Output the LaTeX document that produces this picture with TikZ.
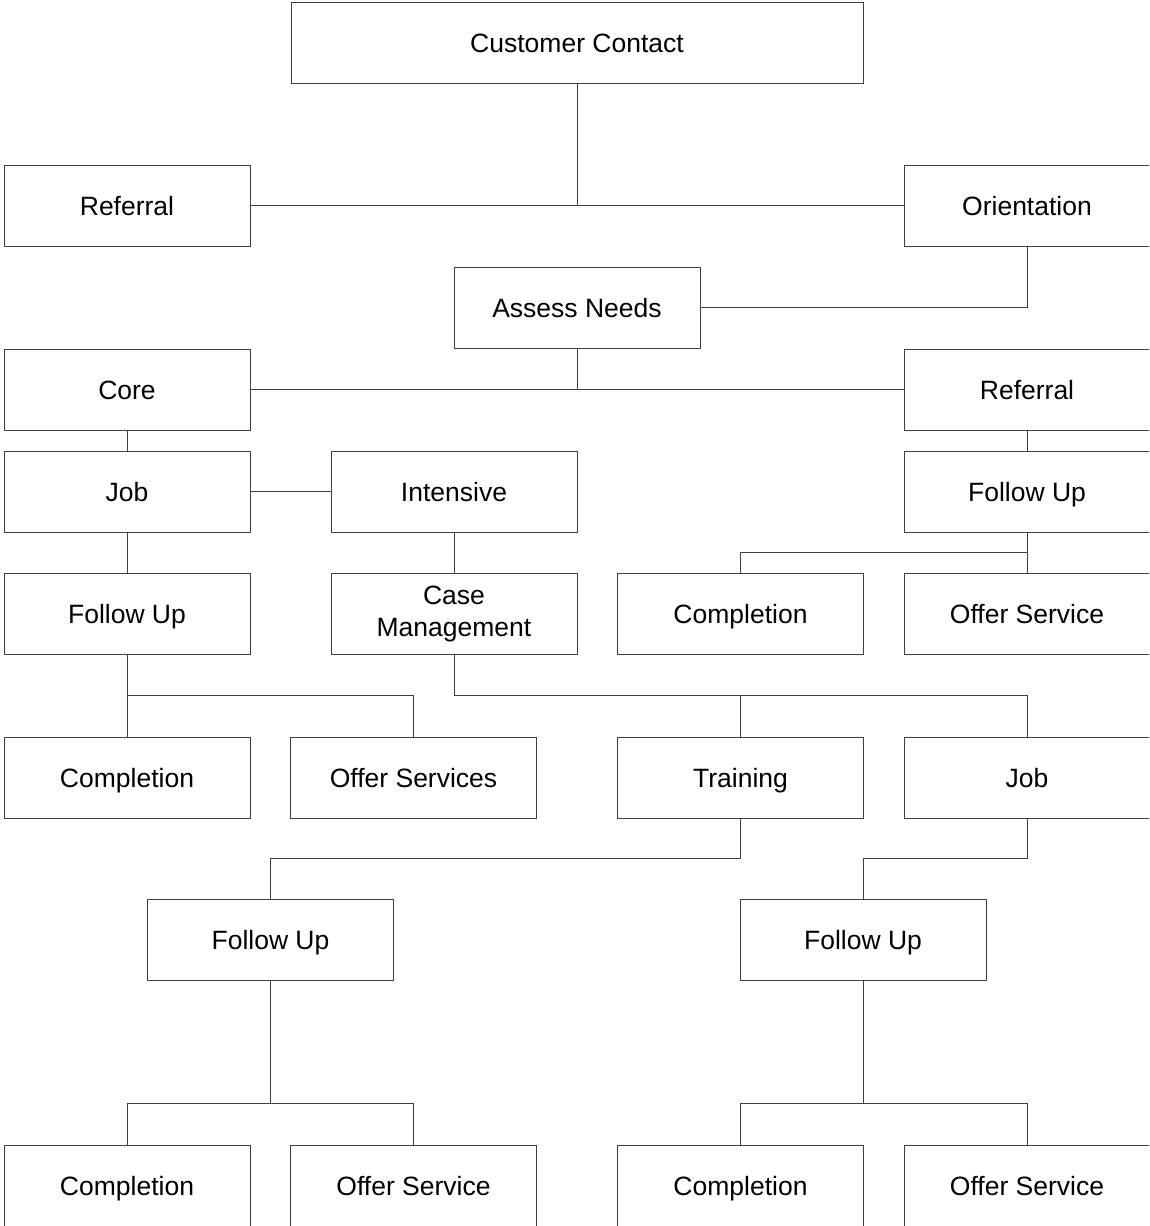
\documentclass[tikz,border=0pt]{standalone}
\usepackage{fontspec}
\setmainfont{Liberation Sans}
\usetikzlibrary{calc}
\begin{document}
\begin{tikzpicture}[x=1pt,y=-1pt,
  box/.style={draw=black!75,line width=1pt,minimum width=246pt,minimum height=81pt,inner sep=0pt,align=center,font=\fontsize{26.5}{32}\selectfont,text height=19pt,text depth=0pt},
  box2/.style={draw=black!75,line width=1pt,minimum width=246pt,minimum height=81pt,inner sep=0pt,align=center,font=\fontsize{26.5}{32}\selectfont},
  conn/.style={draw=black!75,line width=1pt}]
\useasboundingbox (0,0) rectangle (1149,1226);
\clip (0,0) rectangle (1149,1226);
\node[box,minimum width=572pt] (cc) at (577,42.5) {Customer Contact};
\node[box] (ref1) at (127,205.5) {Referral};
\node[box] (orient) at (1027,205.5) {Orientation};
\node[box] (assess) at (577,307.5) {Assess Needs};
\node[box] (core) at (127,389.5) {Core};
\node[box] (ref2) at (1027,389.5) {Referral};
\node[box] (job1) at (127,491.5) {Job};
\node[box] (intensive) at (454,491.5) {Intensive};
\node[box] (fu1) at (1027,491.5) {Follow Up};
\node[box] (fu2) at (127,613.5) {Follow Up};
\node[box2] (casem) at (454,613.5) {Case\\Management};
\node[box] (comp1) at (740.5,613.5) {Completion};
\node[box] (offer1) at (1027,613.5) {Offer Service};
\node[box] (comp2) at (127,777.5) {Completion};
\node[box] (offers) at (413.5,777.5) {Offer Services};
\node[box] (training) at (740.5,777.5) {Training};
\node[box] (job2) at (1027,777.5) {Job};
\node[box] (fu3) at (270.5,939.5) {Follow Up};
\node[box] (fu4) at (863,939.5) {Follow Up};
\node[box] (comp3) at (127,1185.5) {Completion};
\node[box] (offer3) at (413.5,1185.5) {Offer Service};
\node[box] (comp4) at (740.5,1185.5) {Completion};
\node[box] (offer4) at (1027,1185.5) {Offer Service};
% connectors
\draw[conn] (cc.south) -- (cc.south |- ref1.east);
\draw[conn] (ref1.east) -- (orient.west);
\draw[conn] (orient.south) |- (assess.east);
\draw[conn] (assess.south) -- (assess.south |- core.east);
\draw[conn] (core.east) -- (ref2.west);
\draw[conn] (core.south) -- (job1.north);
\draw[conn] (job1.east) -- (intensive.west);
\draw[conn] (intensive.south) -- (casem.north);
\draw[conn] (job1.south) -- (fu2.north);
\draw[conn] (ref2.south) -- (fu1.north);
\coordinate (j1) at ($(fu1.south)!0.5!(offer1.north)$);
\draw[conn] (fu1.south) -- (offer1.north);
\draw[conn] (j1) -| (comp1.north);
\coordinate (j2) at ($(fu2.south)!0.5!(comp2.north)$);
\draw[conn] (fu2.south) -- (comp2.north);
\draw[conn] (j2) -| (offers.north);
\coordinate (j3) at ($(casem.south)!0.5!(casem.south |- job2.north)$);
\draw[conn] (casem.south) -- (j3) -| (job2.north);
\draw[conn] (training.north |- j3) -- (training.north);
\coordinate (j4) at ($(training.south)!0.5!(training.south |- fu3.north)$);
\draw[conn] (training.south) -- (j4) -| (fu3.north);
\coordinate (j5) at ($(job2.south)!0.5!(job2.south |- fu4.north)$);
\draw[conn] (job2.south) -- (j5) -| (fu4.north);
\coordinate (j6) at ($(comp3.north)+(0,-41)$);
\draw[conn] (fu3.south) -- (fu3.south |- j6);
\draw[conn] (comp3.north) |- (offer3.north |- j6) -- (offer3.north);
\coordinate (j7) at ($(comp4.north)+(0,-41)$);
\draw[conn] (fu4.south) -- (fu4.south |- j7);
\draw[conn] (comp4.north) |- (offer4.north |- j7) -- (offer4.north);
\end{tikzpicture}
\end{document}
